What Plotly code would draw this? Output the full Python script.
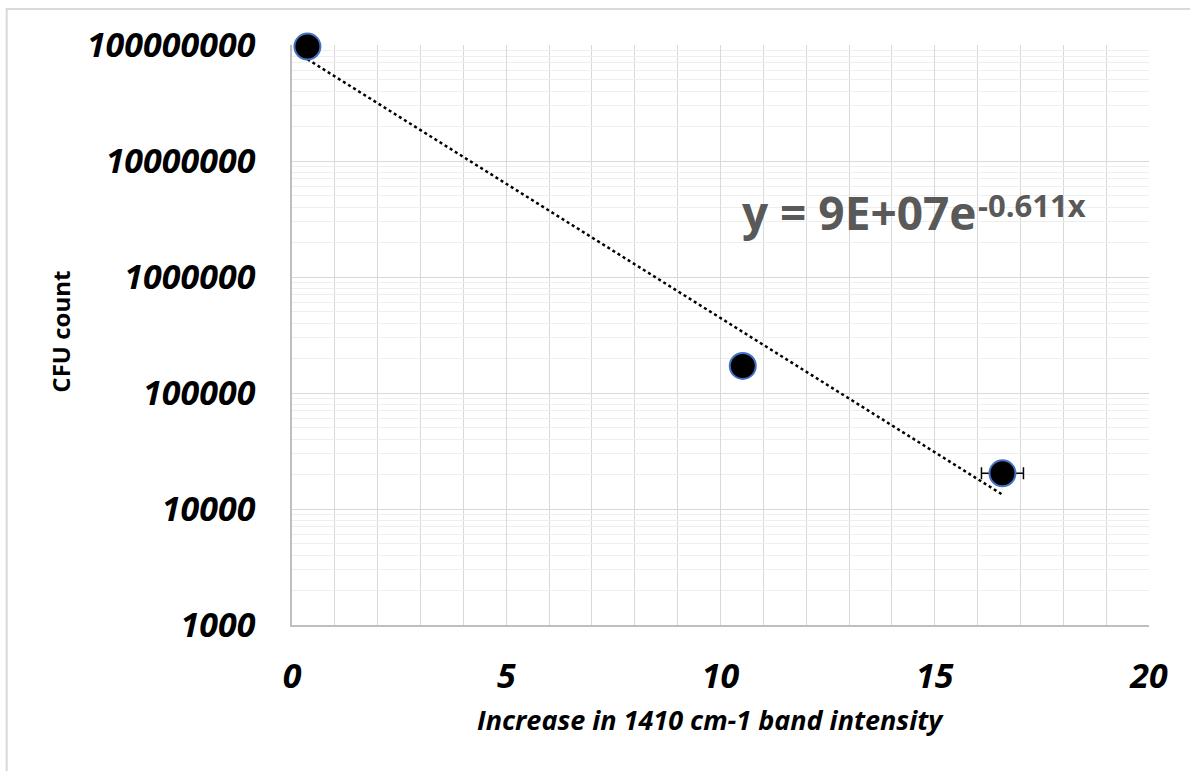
import numpy as np
import plotly.graph_objects as go

# Data
x_vals = [0.36, 10.52, 16.58]
cfu = [9.7e7, 1.71e5, 2.03e4]
x_err = [0.0, 0.0, 0.49]
x_ticks = [0, 5, 10, 15, 20]
y_ticks = [1e3, 1e4, 1e5, 1e6, 1e7, 1e8]
y_tick_text = ["1000", "10000", "100000", "1000000", "10000000", "100000000"]

# Exponential trendline fitted to the data
slope, intercept = np.polyfit(x_vals, np.log(cfu), 1)
tx = np.linspace(min(x_vals), max(x_vals), 100)
ty = np.exp(intercept + slope * tx)

W, H = 1190, 771
L, R, T, B = 291.5, 41, 45, 146
pw, ph = W - L - R, H - T - B

def px(xp):
    return (xp - L) / pw

def py(yp):
    return (H - B - yp) / ph

fig = go.Figure()
fig.add_trace(go.Scatter(
    x=tx, y=ty, mode="lines",
    line=dict(color="black", width=2.5, dash="dot"),
    hoverinfo="skip", showlegend=False))
fig.add_trace(go.Scatter(
    x=x_vals, y=cfu, mode="markers",
    marker=dict(size=26, color="black", line=dict(color="#4472C4", width=2)),
    error_x=dict(type="data", array=x_err, visible=True, color="black", thickness=1.5, width=6),
    showlegend=False, cliponaxis=False))

tick_font = dict(family="Open Sans", size=34, color="black", weight="bold", style="italic")

fig.update_xaxes(
    range=[0, 20], tickvals=x_ticks, ticktext=[str(v) for v in x_ticks],
    tickfont=tick_font, ticklabelstandoff=20,
    showgrid=True, gridcolor="#d9d9d9", gridwidth=1,
    minor=dict(dtick=1, showgrid=True, gridcolor="#d9d9d9", gridwidth=1),
    showline=True, linecolor="#bfbfbf", linewidth=1.5,
    zeroline=False, ticks="",
    title=dict(text=""),
)
fig.update_yaxes(
    type="log", range=[3, 8], tickvals=y_ticks, ticktext=y_tick_text,
    tickfont=tick_font, ticklabelstandoff=28,
    showgrid=True, gridcolor="#d9d9d9", gridwidth=1,
    minor=dict(dtick="D1", showgrid=True, gridcolor="#eeeeee", gridwidth=1),
    showline=True, linecolor="#bfbfbf", linewidth=1.5,
    zeroline=False, ticks="",
    title=dict(text=""),
)

annotations = [
    dict(text="Increase in 1410 cm-1 band intensity", xref="paper", yref="paper",
         x=px(710), y=py(719), showarrow=False, xanchor="center", yanchor="middle",
         font=dict(family="Open Sans", size=27, color="black", weight="bold", style="italic")),
    dict(text="CFU count", xref="paper", yref="paper", x=px(59), y=py(332),
         textangle=-90, showarrow=False, xanchor="center", yanchor="middle",
         font=dict(family="Open Sans", size=24, color="black", weight="bold")),
    dict(text="y = 9E+07e", xref="paper", yref="paper", x=px(740), y=py(212),
         showarrow=False, xanchor="left", yanchor="middle",
         font=dict(family="Open Sans", size=46, color="#595959", weight="bold")),
    dict(text="-0.611x", xref="paper", yref="paper", x=px(976), y=py(205),
         showarrow=False, xanchor="left", yanchor="middle",
         font=dict(family="Open Sans", size=31, color="#595959", weight="bold")),
]

fig.update_layout(
    width=W, height=H,
    margin=dict(l=L, r=R, t=T, b=B, pad=0),
    paper_bgcolor="white", plot_bgcolor="white",
    annotations=annotations,
    shapes=[dict(type="rect", xref="paper", yref="paper",
                 x0=px(6), x1=px(1200), y0=py(800), y1=py(9),
                 line=dict(color="#d9d9d9", width=2), fillcolor="rgba(0,0,0,0)", layer="below")],
)

fig.write_html("out.html")
